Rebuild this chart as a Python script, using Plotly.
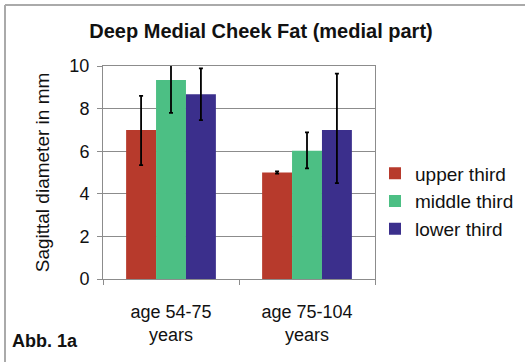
import plotly.graph_objects as go

categories = ["age 54-75<br>years", "age 75-104<br>years"]
series_names = ["upper third", "middle third", "lower third"]
values = [[7.0, 5.0], [9.34, 6.02], [8.67, 7.0]]
err_plus = [[1.6, 0.05], [1.33, 0.86], [1.22, 2.64]]
err_minus = [[1.65, 0.05], [1.54, 0.83], [1.21, 2.5]]
colors = ["#B73A2C", "#4CBF84", "#3B2F8C"]
y_ticks = [0, 2, 4, 6, 8, 10]

fig = go.Figure()
for name, vals, ep, em, c in zip(series_names, values, err_plus, err_minus, colors):
    fig.add_trace(go.Bar(
        x=categories, y=vals, name=name,
        marker=dict(color=c, line=dict(width=0)),
        error_y=dict(type="data", symmetric=False, array=ep, arrayminus=em,
                     color="black", thickness=1.8, width=2),
    ))

font = "Liberation Sans, Arial, sans-serif"
fig.update_layout(
    width=525, height=362,
    margin=dict(l=103, r=150, t=66, b=83, autoexpand=False),
    paper_bgcolor="white", plot_bgcolor="white",
    barmode="group", bargap=0.34, bargroupgap=0,
    title=dict(text="<b>Deep Medial Cheek Fat (medial part)</b>", x=261/525, xanchor="center",
               y=1 - 31/362, yanchor="middle", font=dict(family=font, size=20, color="#111")),
    font=dict(family=font, color="#222"),
    legend=dict(x=1.0, y=0.585, xanchor="left", yanchor="top",
                font=dict(family=font, size=19, color="#111"),
                bgcolor="rgba(0,0,0,0)", tracegroupgap=0, itemwidth=30),
    showlegend=True,
)
fig.update_yaxes(range=[0, 10], tickvals=y_ticks, showgrid=True, gridcolor="#8c8c8c", gridwidth=1,
                 showline=True, linecolor="#8c8c8c", linewidth=1, mirror=True,
                 ticks="outside", ticklen=5, tickcolor="#8c8c8c", ticklabelstandoff=4,
                 tickfont=dict(family=font, size=18, color="#111"),
                 title=dict(text="Sagittal diameter in mm", font=dict(family=font, size=19, color="#111"),
                            standoff=14),
                 zeroline=False)
fig.update_xaxes(showline=True, linecolor="#8c8c8c", linewidth=1, mirror=True,
                 ticks="outside", tickson="boundaries", ticklen=5, tickcolor="#8c8c8c",
                 ticklabelstandoff=16,
                 tickfont=dict(family=font, size=18, color="#111"))

# outer frame (top and left edges)
fig.add_shape(type="line", xref="paper", yref="paper",
              x0=(5 - 103) / 272, x1=(525 - 103) / 272, y0=(279 - 5) / 213, y1=(279 - 5) / 213,
              line=dict(color="#aaa", width=2))
fig.add_shape(type="line", xref="paper", yref="paper",
              x0=(5 - 103) / 272, x1=(5 - 103) / 272, y0=(279 - 5) / 213, y1=(279 - 362) / 213,
              line=dict(color="#aaa", width=2))

fig.add_annotation(text="<b>Abb. 1a</b>", xref="paper", yref="paper",
                   x=(10 - 103) / 272, y=(279 - 341) / 213, xanchor="left", yanchor="middle",
                   showarrow=False, font=dict(family="Liberation Sans Narrow, Arial Narrow, sans-serif",
                                              size=18, color="#111"))

fig.write_html("out.html", config={"displayModeBar": False},
               post_script="document.body.style.margin='0px';")
